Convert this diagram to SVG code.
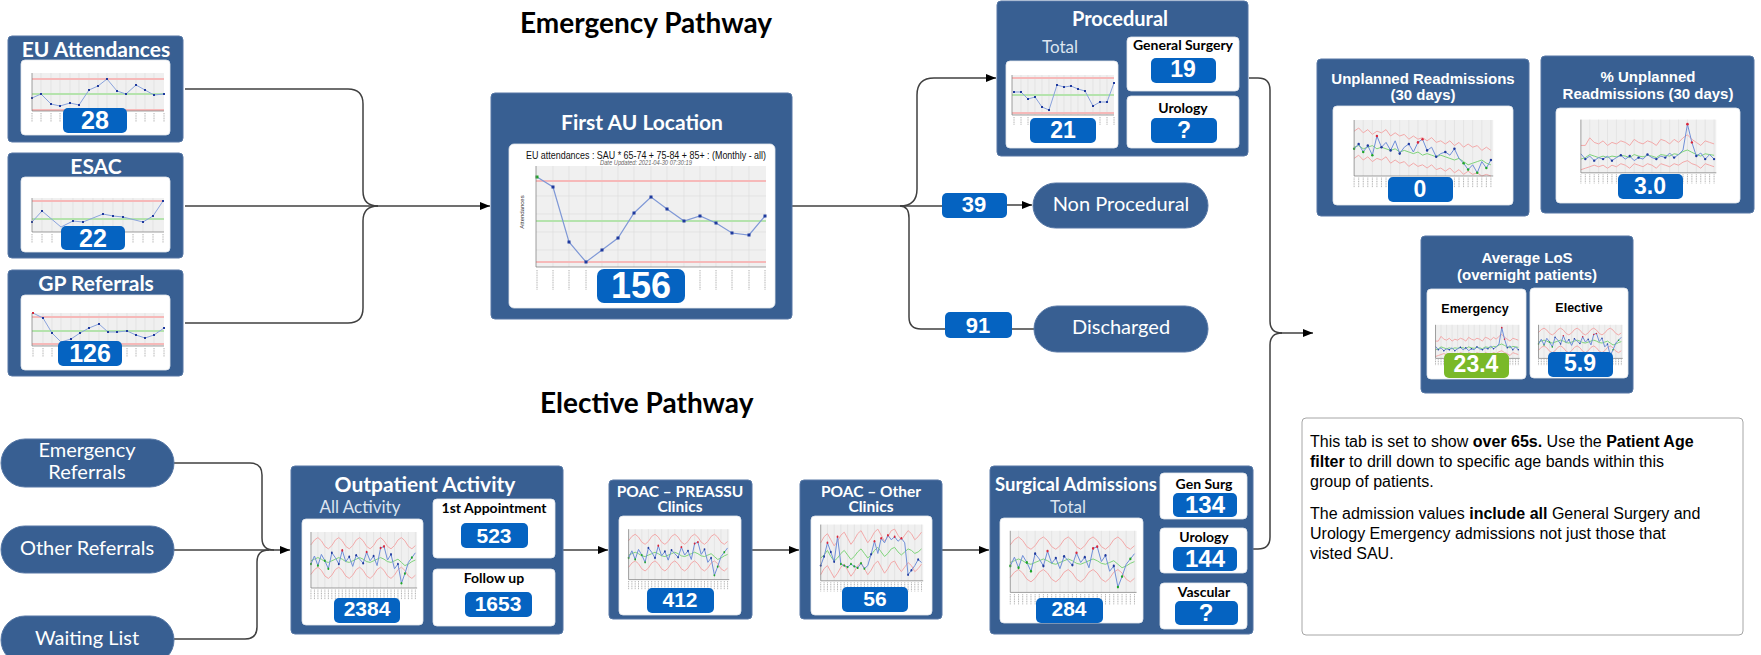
<svg xmlns="http://www.w3.org/2000/svg" width="1761" height="655" viewBox="0 0 1761 655">
<style>
.box{fill:#385f92;stroke:#5677a5;stroke-width:1}
.panel{fill:#fff;stroke:#e3e7ec;stroke-width:0.8}
.badge{fill:#0563c1}
.badgeG{fill:#7ab929}
.num{font-family:"Liberation Sans",Arial,sans-serif;font-weight:bold;fill:#fff;text-anchor:middle}
.ttl{font-family:Lato,"Open Sans",sans-serif;font-weight:bold;fill:#fff;text-anchor:middle}
.ttl2{font-family:"Liberation Sans",Arial,sans-serif;font-weight:bold;fill:#fff;text-anchor:middle;font-size:15px}
.sub{font-family:Lato,"Open Sans",sans-serif;fill:#dde5f0;text-anchor:middle;font-size:17px}
.lbl{font-family:Lato,"Open Sans",sans-serif;font-weight:bold;fill:#000;text-anchor:middle;font-size:14px}
.lbl2{font-family:"Liberation Sans",Arial,sans-serif;font-weight:bold;fill:#000;text-anchor:middle;font-size:12.5px}
.pill{fill:#385f92;stroke:#5677a5;stroke-width:1}
.ptxt{font-family:Lato,"Open Sans",sans-serif;fill:#fff;text-anchor:middle;font-size:20px}
.conn{fill:none;stroke:#404040;stroke-width:1.5}
.head{font-family:Lato,"Open Sans",sans-serif;font-weight:bold;font-size:28px;fill:#000}
.note{font-family:"Liberation Sans",Arial,sans-serif;font-size:16px;fill:#000}
.plot{fill:#f0f0f0}
.grid{stroke:#dcdcdc;stroke-width:0.6;fill:none;vector-effect:non-scaling-stroke}
.rl{fill:none;stroke:#f3a9a9;stroke-width:1;vector-effect:non-scaling-stroke}
.gl{fill:none;stroke:#7fd47b;stroke-width:1;vector-effect:non-scaling-stroke}
.bl{fill:none;stroke:#6f8fd8;stroke-width:1;vector-effect:non-scaling-stroke}
.ax{fill:none;stroke:#777;stroke-width:0.7;vector-effect:non-scaling-stroke}
.tk{fill:none;stroke:#9a9a9a;stroke-width:0.8;stroke-dasharray:1 0.7;vector-effect:non-scaling-stroke}
.bd{fill:#1f3a9e}.gd{fill:#1fa52a}.rd{fill:#d9263a}
.srl{fill:none;stroke:#f6b9b9;stroke-width:2}
.sgl{fill:none;stroke:#b5e3ad;stroke-width:2}
.sbl{fill:none;stroke:#8aa3dd;stroke-width:1}
</style>
<defs>
<marker id="arr" viewBox="0 0 10 10" refX="10" refY="5" markerWidth="10" markerHeight="10" markerUnits="userSpaceOnUse" orient="auto"><path d="M0,1 L10,5 L0,9 z" fill="#000"/></marker>
<symbol id="spcA" viewBox="0 0 200 100" preserveAspectRatio="none">
<rect class="plot" x="12" y="10" width="183" height="70"/>
<path class="grid" d="M24 10V80M36 10V80M48 10V80M60 10V80M72 10V80M84 10V80M96 10V80M108 10V80M120 10V80M132 10V80M144 10V80M156 10V80M168 10V80M180 10V80M192 10V80"/>
<polyline class="rl" points="12,26 18,20 24,17 30,21 36,28 42,31 48,27 54,20 60,17 66,21 72,28 78,31 84,27 90,20 96,17 102,21 108,28 114,31 120,27 126,20 132,17 138,21 144,28 150,31 156,27 162,20 168,17 174,21 180,28 186,31 192,27"/>
<polyline class="rl" points="12,63 18,57 24,54 30,58 36,65 42,68 48,64 54,57 60,54 66,58 72,65 78,68 84,64 90,57 96,54 102,58 108,65 114,68 120,64 126,57 132,54 138,58 144,65 150,68 156,64 162,57 168,54 174,58 180,65 186,68 192,64"/>
<polyline class="gl" points="12,46 18,44 24,42 30,44 36,47 42,48 48,46 54,44 60,42 66,44 72,47 78,48 84,46 90,44 96,42 102,44 108,47 114,48 120,46 126,44 132,42 138,44 144,47 150,48 156,46 162,44 168,48 174,52 180,50 186,47 192,45"/>
<polyline class="bl" points="12,50 18,40 24,52 30,38 36,46 42,56 48,36 54,42 60,50 66,33 72,47 78,41 84,53 90,39 96,44 102,49 108,35 114,46 120,40 126,52 132,30 138,28 144,45 150,38 156,56 162,50 168,74 174,62 180,48 186,42 192,36"/>
<g class="gd"><circle cx="12" cy="50" r="1.6"/><circle cx="24" cy="52" r="1.6"/><circle cx="36" cy="46" r="1.6"/><circle cx="42" cy="56" r="1.6"/><circle cx="168" cy="74" r="1.6"/><circle cx="174" cy="62" r="1.6"/><circle cx="186" cy="42" r="1.6"/></g>
<g class="bd"><circle cx="48" cy="36" r="1.6"/><circle cx="60" cy="50" r="1.6"/><circle cx="78" cy="41" r="1.6"/><circle cx="90" cy="39" r="1.6"/><circle cx="102" cy="49" r="1.6"/><circle cx="120" cy="40" r="1.6"/><circle cx="150" cy="38" r="1.6"/><circle cx="162" cy="50" r="1.6"/></g>
<g class="rd"><circle cx="66" cy="33" r="1.6"/><circle cx="108" cy="35" r="1.6"/><circle cx="132" cy="30" r="1.6"/><circle cx="138" cy="28" r="1.6"/></g>
<path class="ax" d="M12 10V80H195"/>
<path class="tk" d="M12 82V94M18 82V94M24 82V94M30 82V94M36 82V94M42 82V94M48 82V94M54 82V94M60 82V94M66 82V94M72 82V94M78 82V94M84 82V94M90 82V94M96 82V94M102 82V94M108 82V94M114 82V94M120 82V94M126 82V94M132 82V94M138 82V94M144 82V94M150 82V94M156 82V94M162 82V94M168 82V94M174 82V94M180 82V94M186 82V94M192 82V94"/>
</symbol>
<symbol id="spcB" viewBox="0 0 200 100" preserveAspectRatio="none">
<rect class="plot" x="12" y="6" width="183" height="74"/>
<path class="grid" d="M24 6V80M36 6V80M48 6V80M60 6V80M72 6V80M84 6V80M96 6V80M108 6V80M120 6V80M132 6V80M144 6V80M156 6V80M168 6V80M180 6V80M192 6V80"/>
<polyline class="rl" points="12,30 18,22 24,18 30,26 36,34 42,28 48,20 54,16 60,24 66,32 72,26 78,18 84,14 90,22 96,30 102,24 108,16 114,12 120,20 126,28 132,22 138,14 144,12 150,20 156,26 162,20 168,14 174,18 180,26 186,22 192,16"/>
<polyline class="rl" points="12,72 18,64 24,60 30,68 36,76 42,70 48,62 54,58 60,66 66,74 72,68 78,60 84,56 90,64 96,72 102,66 108,58 114,54 120,62 126,70 132,64 138,56 144,54 150,62 156,68 162,62 168,56 174,60 180,68 186,64 192,58"/>
<polyline class="gl" points="12,50 18,46 24,40 30,48 36,54 42,50 48,44 54,40 60,46 66,52 72,48 78,42 84,38 90,44 96,50 102,46 108,40 114,36 120,42 126,48 132,44 138,38 144,36 150,42 156,46 162,42 168,38 174,40 180,44 186,42 192,38"/>
<polyline class="bl" points="12,60 18,48 24,30 30,42 36,55 42,22 48,58 54,60 60,62 66,58 72,61 78,63 84,57 90,64 96,60 102,45 108,28 114,44 120,24 126,30 132,20 138,26 144,22 150,28 156,24 162,30 168,72 174,66 180,60 186,52 192,56"/>
<g class="gd"><circle cx="48" cy="58" r="1.6"/><circle cx="54" cy="60" r="1.6"/><circle cx="60" cy="62" r="1.6"/><circle cx="66" cy="58" r="1.6"/><circle cx="72" cy="61" r="1.6"/><circle cx="78" cy="63" r="1.6"/><circle cx="84" cy="57" r="1.6"/><circle cx="90" cy="64" r="1.6"/></g>
<g class="bd"><circle cx="12" cy="60" r="1.6"/><circle cx="18" cy="48" r="1.6"/><circle cx="30" cy="42" r="1.6"/><circle cx="36" cy="55" r="1.6"/><circle cx="102" cy="45" r="1.6"/><circle cx="168" cy="72" r="1.6"/><circle cx="174" cy="66" r="1.6"/><circle cx="186" cy="52" r="1.6"/></g>
<g class="rd"><circle cx="24" cy="30" r="1.6"/><circle cx="42" cy="22" r="1.6"/><circle cx="108" cy="28" r="1.6"/><circle cx="120" cy="24" r="1.6"/><circle cx="132" cy="20" r="1.6"/><circle cx="144" cy="22" r="1.6"/><circle cx="156" cy="24" r="1.6"/></g>
<path class="ax" d="M12 6V80H195"/>
<path class="tk" d="M12 82V94M18 82V94M24 82V94M30 82V94M36 82V94M42 82V94M48 82V94M54 82V94M60 82V94M66 82V94M72 82V94M78 82V94M84 82V94M90 82V94M96 82V94M102 82V94M108 82V94M114 82V94M120 82V94M126 82V94M132 82V94M138 82V94M144 82V94M150 82V94M156 82V94M162 82V94M168 82V94M174 82V94M180 82V94M186 82V94M192 82V94"/>
</symbol>
<symbol id="spcC" viewBox="0 0 200 100" preserveAspectRatio="none">
<rect class="plot" x="12" y="10" width="183" height="70"/>
<path class="grid" d="M24 10V80M36 10V80M48 10V80M60 10V80M72 10V80M84 10V80M96 10V80M108 10V80M120 10V80M132 10V80M144 10V80M156 10V80M168 10V80M180 10V80M192 10V80"/>
<polyline class="rl" points="12,24 18,20 24,26 30,22 36,28 42,24 48,26 54,22 60,30 66,26 72,30 78,28 84,34 90,30 96,34 102,32 108,36 114,32 120,38 126,36 132,40 138,36 144,42 150,38 156,44 162,40 168,44 174,42 180,48 186,44 192,48"/>
<polyline class="rl" points="12,58 18,54 24,60 30,56 36,62 42,58 48,60 54,56 60,64 66,60 72,64 78,62 84,68 90,64 96,68 102,66 108,70 114,66 120,72 126,70 132,74 138,70 144,76 150,72 156,78 162,74 168,78 174,76 180,80 186,78 192,80"/>
<polyline class="gl" points="12,44 18,42 24,46 30,44 36,42 42,46 48,44 54,46 60,48 66,46 72,50 78,48 84,50 90,52 96,50 102,54 108,52 114,54 120,56 126,54 132,56 138,58 144,60 150,58 156,62 162,66 168,64 174,62 180,60 186,64 192,66"/>
<polyline class="bl" points="12,46 18,40 24,50 30,42 36,54 42,30 48,44 54,38 60,48 66,36 72,52 78,44 84,40 90,50 96,38 102,34 108,48 114,44 120,56 126,52 132,50 138,54 144,46 150,58 156,64 162,72 168,66 174,76 180,62 186,70 192,60"/>
<g class="gd"><circle cx="12" cy="46" r="1.6"/><circle cx="24" cy="50" r="1.6"/><circle cx="36" cy="54" r="1.6"/><circle cx="156" cy="64" r="1.6"/><circle cx="162" cy="72" r="1.6"/><circle cx="174" cy="76" r="1.6"/><circle cx="186" cy="70" r="1.6"/></g>
<g class="bd"><circle cx="18" cy="40" r="1.6"/><circle cx="30" cy="42" r="1.6"/><circle cx="48" cy="44" r="1.6"/><circle cx="60" cy="48" r="1.6"/><circle cx="72" cy="52" r="1.6"/><circle cx="84" cy="40" r="1.6"/><circle cx="108" cy="48" r="1.6"/><circle cx="120" cy="56" r="1.6"/><circle cx="132" cy="50" r="1.6"/><circle cx="144" cy="46" r="1.6"/><circle cx="192" cy="60" r="1.6"/></g>
<g class="rd"><circle cx="42" cy="30" r="1.6"/><circle cx="96" cy="38" r="1.6"/><circle cx="102" cy="34" r="1.6"/></g>
<path class="ax" d="M12 10V80H195"/>
<path class="tk" d="M12 82V94M18 82V94M24 82V94M30 82V94M36 82V94M42 82V94M48 82V94M54 82V94M60 82V94M66 82V94M72 82V94M78 82V94M84 82V94M90 82V94M96 82V94M102 82V94M108 82V94M114 82V94M120 82V94M126 82V94M132 82V94M138 82V94M144 82V94M150 82V94M156 82V94M162 82V94M168 82V94M174 82V94M180 82V94M186 82V94M192 82V94"/>
</symbol>
<symbol id="spcD" viewBox="0 0 200 100" preserveAspectRatio="none">
<rect class="plot" x="12" y="10" width="183" height="70"/>
<path class="grid" d="M24 10V80M36 10V80M48 10V80M60 10V80M72 10V80M84 10V80M96 10V80M108 10V80M120 10V80M132 10V80M144 10V80M156 10V80M168 10V80M180 10V80M192 10V80"/>
<polyline class="rl" points="12,44 18,44 24,34 30,40 36,42 42,38 48,44 54,40 60,42 66,38 72,40 78,44 84,36 90,40 96,42 102,38 108,40 114,44 120,36 126,38 132,42 138,36 144,40 150,34 156,30 162,36 168,40 174,44 180,38 186,40 192,42"/>
<polyline class="rl" points="12,76 18,74 24,72 30,70 36,72 42,70 48,74 54,70 60,72 66,68 72,70 78,74 84,68 90,70 96,72 102,68 108,70 114,74 120,68 126,70 132,72 138,68 144,70 150,66 156,64 162,68 168,70 174,74 180,68 186,70 192,72"/>
<polyline class="gl" points="12,62 18,60 24,56 30,58 36,60 42,58 48,60 54,58 60,59 66,57 72,58 78,60 84,56 90,58 96,59 102,57 108,58 114,60 120,56 126,57 132,58 138,55 144,56 150,52 156,50 162,53 168,56 174,58 180,55 186,56 192,57"/>
<polyline class="bl" points="12,55 18,62 24,58 30,64 36,60 42,62 48,58 54,64 60,60 66,57 72,62 78,58 84,64 90,60 96,62 102,56 108,60 114,62 120,58 126,60 132,54 138,60 144,56 150,50 156,16 162,40 168,58 174,54 180,62 186,56 192,62"/>
<g class="bd"><circle cx="18" cy="62" r="1.6"/><circle cx="30" cy="64" r="1.6"/><circle cx="42" cy="62" r="1.6"/><circle cx="54" cy="64" r="1.6"/><circle cx="66" cy="57" r="1.6"/><circle cx="78" cy="58" r="1.6"/><circle cx="90" cy="60" r="1.6"/><circle cx="102" cy="56" r="1.6"/><circle cx="114" cy="62" r="1.6"/><circle cx="126" cy="60" r="1.6"/><circle cx="138" cy="60" r="1.6"/><circle cx="168" cy="58" r="1.6"/><circle cx="180" cy="62" r="1.6"/><circle cx="192" cy="62" r="1.6"/></g>
<g class="rd"><circle cx="156" cy="16" r="1.8"/><circle cx="162" cy="40" r="1.6"/></g>
<path class="ax" d="M12 10V80H195"/>
<path class="tk" d="M12 82V94M18 82V94M24 82V94M30 82V94M36 82V94M42 82V94M48 82V94M54 82V94M60 82V94M66 82V94M72 82V94M78 82V94M84 82V94M90 82V94M96 82V94M102 82V94M108 82V94M114 82V94M120 82V94M126 82V94M132 82V94M138 82V94M144 82V94M150 82V94M156 82V94M162 82V94M168 82V94M174 82V94M180 82V94M186 82V94M192 82V94"/>
</symbol>
</defs>
<rect width="1761" height="655" fill="#fff"/>

<text class="head" x="520" y="33">Emergency Pathway</text>
<text class="head" x="540" y="413">Elective Pathway</text>

<g id="connectors">
<path class="conn" d="M185,89 H348 Q363,89 363,104 V191 Q363,206 378,206"/>
<path class="conn" d="M185,206 H490" marker-end="url(#arr)"/>
<path class="conn" d="M185,323 H348 Q363,323 363,308 V221 Q363,206 378,206"/>
<path class="conn" d="M792,206 H942"/>
<path class="conn" d="M900,206 Q917,206 917,189 V95 Q917,78 934,78 H996" marker-end="url(#arr)"/>
<path class="conn" d="M900,206 Q909,206 909,218 V317 Q909,329 921,329 H945"/>
<path class="conn" d="M1007,205 H1032" marker-end="url(#arr)"/>
<path class="conn" d="M1012,329 H1034"/>
<path class="conn" d="M1249,78 H1258 Q1270,78 1270,90 V321 Q1270,333 1282,333"/>
<path class="conn" d="M1253,549 H1258 Q1270,549 1270,537 V345 Q1270,333 1282,333"/>
<path class="conn" d="M1278,333 H1313" marker-end="url(#arr)"/>
<path class="conn" d="M174,463 H250 Q262,463 262,475 V538 Q262,550 274,550"/>
<path class="conn" d="M174,550 H290" marker-end="url(#arr)"/>
<path class="conn" d="M174,639 H245 Q257,639 257,627 V562 Q257,550 269,550"/>
<path class="conn" d="M563,550 H608" marker-end="url(#arr)"/>
<path class="conn" d="M752,550 H799" marker-end="url(#arr)"/>
<path class="conn" d="M942,550 H989" marker-end="url(#arr)"/>
</g>

<g id="eu-attendances">
<rect class="box" x="8" y="36" width="175" height="106" rx="4"/>
<text class="ttl" x="96" y="57" font-size="21">EU Attendances</text>
<rect class="panel" x="21" y="60" width="149" height="75" rx="4"/>
<rect class="plot" x="32" y="73" width="132" height="38"/>
<path class="grid" d="M41 73V111M51 73V111M60 73V111M70 73V111M79 73V111M89 73V111M98 73V111M107 73V111M117 73V111M126 73V111M136 73V111M145 73V111M154 73V111"/>
<path class="srl" d="M32 79H164M32 110H164"/><path class="sgl" d="M32 94H164"/>
<polyline class="sbl" points="32,98 41,94 51,104 60,106 70,103 79,105 89,90 98,86 107,79 117,91 126,94 136,85 145,90 154,95 164,94"/>
<g class="bd"><rect x="31" y="97" width="2" height="2"/><rect x="40" y="93" width="2" height="2"/><rect x="50" y="103" width="2" height="2"/><rect x="59" y="105" width="2" height="2"/><rect x="69" y="102" width="2" height="2"/><rect x="78" y="104" width="2" height="2"/><rect x="88" y="89" width="2" height="2"/><rect x="97" y="85" width="2" height="2"/><rect x="106" y="78" width="2" height="2"/><rect x="116" y="90" width="2" height="2"/><rect x="125" y="93" width="2" height="2"/><rect x="135" y="84" width="2" height="2"/><rect x="144" y="89" width="2" height="2"/><rect x="153" y="94" width="2" height="2"/><rect x="163" y="93" width="2" height="2"/></g>
<path class="ax" d="M32 73V111H164"/>
<path class="tk" d="M32 113V122M41 113V122M51 113V122M60 113V122M136 113V122M145 113V122M154 113V122M164 113V122"/>
<rect class="badge" x="63" y="108" width="64" height="25" rx="5"/>
<text class="num" x="95" y="129" font-size="25">28</text>
</g>

<g id="esac">
<rect class="box" x="8" y="153" width="175" height="105" rx="4"/>
<text class="ttl" x="96" y="174" font-size="21">ESAC</text>
<rect class="panel" x="21" y="177" width="149" height="75" rx="4"/>
<rect class="plot" x="32" y="198" width="132" height="34"/>
<path class="grid" d="M42 198V232M52 198V232M61 198V232M73 198V232M83 198V232M93 198V232M103 198V232M113 198V232M123 198V232M133 198V232M143 198V232M153 198V232"/>
<path class="srl" d="M32 201H164"/><path class="sgl" d="M32 219H164"/>
<polyline class="sbl" points="32,222 42,211 61,227 73,221 83,222 103,214 113,216 123,217 143,222 153,216 163,201"/>
<g class="bd"><rect x="31" y="221" width="2" height="2"/><rect x="41" y="210" width="2" height="2"/><rect x="72" y="220" width="2" height="2"/><rect x="82" y="221" width="2" height="2"/><rect x="102" y="213" width="2" height="2"/><rect x="112" y="215" width="2" height="2"/><rect x="122" y="216" width="2" height="2"/><rect x="142" y="221" width="2" height="2"/><rect x="152" y="215" width="2" height="2"/><rect x="162" y="200" width="2" height="2"/></g>
<path class="ax" d="M32 198V232H164"/>
<path class="tk" d="M32 234V243M42 234V243M52 234V243M133 234V243M143 234V243M153 234V243M163 234V243"/>
<rect class="badge" x="61" y="226" width="64" height="24" rx="5"/>
<text class="num" x="93" y="247" font-size="25">22</text>
</g>

<g id="gp-referrals">
<rect class="box" x="8" y="270" width="175" height="106" rx="4"/>
<text class="ttl" x="96" y="291" font-size="21">GP Referrals</text>
<rect class="panel" x="21" y="295" width="149" height="75" rx="4"/>
<rect class="plot" x="32" y="313" width="132" height="33"/>
<path class="grid" d="M43 313V346M52 313V346M61 313V346M71 313V346M80 313V346M89 313V346M99 313V346M108 313V346M117 313V346M127 313V346M136 313V346M145 313V346M154 313V346"/>
<path class="srl" d="M32 317H164M32 344H164"/><path class="sgl" d="M32 331H164"/>
<polyline class="sbl" points="33,313 43,318 52,333 61,342 71,339 80,333 89,328 99,324 108,332 117,332 127,331 136,335 145,338 154,335 164,328"/>
<g class="bd"><rect x="42" y="317" width="2" height="2"/><rect x="51" y="332" width="2" height="2"/><rect x="70" y="338" width="2" height="2"/><rect x="79" y="332" width="2" height="2"/><rect x="88" y="327" width="2" height="2"/><rect x="98" y="323" width="2" height="2"/><rect x="107" y="331" width="2" height="2"/><rect x="116" y="331" width="2" height="2"/><rect x="126" y="330" width="2" height="2"/><rect x="135" y="334" width="2" height="2"/><rect x="144" y="337" width="2" height="2"/><rect x="153" y="334" width="2" height="2"/><rect x="163" y="327" width="2" height="2"/></g>
<rect class="rd" x="32" y="312" width="2" height="2"/>
<path class="ax" d="M32 313V346H164"/>
<path class="tk" d="M33 348V357M43 348V357M52 348V357M127 348V357M136 348V357M145 348V357M154 348V357M164 348V357"/>
<rect class="badge" x="58" y="341" width="64" height="25" rx="5"/>
<text class="num" x="90" y="362" font-size="25">126</text>
</g>

<g id="first-au-location">
<rect class="box" x="491" y="93" width="301" height="226" rx="4"/>
<text class="ttl" x="642" y="130" font-size="21">First AU Location</text>
<rect class="panel" x="509" y="144" width="266" height="164" rx="5"/>
<text x="646" y="159" font-family="'Liberation Sans',Arial,sans-serif" font-size="11" text-anchor="middle" textLength="240" lengthAdjust="spacingAndGlyphs" fill="#111">EU attendances : SAU * 65-74 + 75-84 + 85+ : (Monthly - all)</text>
<text x="646" y="165" font-family="'Liberation Sans',Arial,sans-serif" font-size="6.5" font-style="italic" text-anchor="middle" textLength="92" lengthAdjust="spacingAndGlyphs" fill="#666">Date Updated: 2021-04-30 07:30:19</text>
<rect class="plot" x="536" y="166" width="230" height="101"/>
<path class="grid" d="M553 166V267M569 166V267M586 166V267M602 166V267M618 166V267M634 166V267M651 166V267M667 166V267M684 166V267M700 166V267M716 166V267M732 166V267M749 166V267M536 196H766M536 214H766M536 232H766M536 250H766"/>
<path class="srl" d="M536 181H766M536 262H766"/><path class="sgl" d="M536 221H766"/>
<polyline fill="none" stroke="#7f98d6" stroke-width="1.2" points="537,177 553,187 569,242 586,262 602,250 618,238 634,213 651,197 667,209 684,221 700,216 716,223 732,233 749,235 765,216"/>
<g class="bd"><rect x="551.5" y="185.5" width="3" height="3"/><rect x="567.5" y="240.5" width="3" height="3"/><rect x="584.5" y="260.5" width="3" height="3"/><rect x="600.5" y="248.5" width="3" height="3"/><rect x="616.5" y="236.5" width="3" height="3"/><rect x="632.5" y="211.5" width="3" height="3"/><rect x="649.5" y="195.5" width="3" height="3"/><rect x="665.5" y="207.5" width="3" height="3"/><rect x="682.5" y="219.5" width="3" height="3"/><rect x="698.5" y="214.5" width="3" height="3"/><rect x="714.5" y="221.5" width="3" height="3"/><rect x="730.5" y="231.5" width="3" height="3"/><rect x="747.5" y="233.5" width="3" height="3"/><rect x="763.5" y="214.5" width="3" height="3"/></g>
<rect class="gd" x="535.5" y="175.5" width="3" height="3"/>
<path class="ax" d="M536 166V267H766"/>
<text x="524" y="212" font-family="'Liberation Sans',Arial,sans-serif" font-size="6" text-anchor="middle" fill="#333" transform="rotate(-90 524 212)">Attendances</text>
<path class="tk" d="M537 270V290M553 270V290M569 270V290M586 270V290M700 270V290M716 270V290M732 270V290M749 270V290M765 270V290"/>
<rect class="badge" x="597" y="269" width="88" height="34" rx="7"/>
<text class="num" x="641" y="298" font-size="36">156</text>
</g>

<g id="procedural">
<rect class="box" x="997" y="1" width="251" height="155" rx="4"/>
<text class="ttl" x="1120" y="26" font-size="20">Procedural</text>
<text class="sub" x="1060" y="53">Total</text>
<rect class="panel" x="1006" y="61" width="112" height="87" rx="4"/>
<rect class="plot" x="1012" y="75" width="102" height="40"/>
<path class="grid" d="M1021 75V115M1028 75V115M1035 75V115M1042 75V115M1049 75V115M1057 75V115M1064 75V115M1071 75V115M1078 75V115M1085 75V115M1093 75V115M1100 75V115M1107 75V115"/>
<path class="srl" d="M1012 78H1114M1012 113H1114"/><path class="sgl" d="M1012 95H1114"/>
<polyline class="sbl" points="1014,92 1021,92 1028,99 1035,97 1042,107 1049,110 1057,85 1064,87 1071,86 1078,89 1085,91 1093,106 1100,102 1107,102 1114,83"/>
<g class="bd"><rect x="1013" y="91" width="2" height="2"/><rect x="1020" y="91" width="2" height="2"/><rect x="1027" y="98" width="2" height="2"/><rect x="1034" y="96" width="2" height="2"/><rect x="1041" y="106" width="2" height="2"/><rect x="1048" y="109" width="2" height="2"/><rect x="1056" y="84" width="2" height="2"/><rect x="1063" y="86" width="2" height="2"/><rect x="1070" y="85" width="2" height="2"/><rect x="1077" y="88" width="2" height="2"/><rect x="1084" y="90" width="2" height="2"/><rect x="1092" y="105" width="2" height="2"/><rect x="1099" y="101" width="2" height="2"/><rect x="1106" y="101" width="2" height="2"/><rect x="1113" y="82" width="2" height="2"/></g>
<path class="ax" d="M1012 75V115H1114"/>
<path class="tk" d="M1014 117V125M1021 117V125M1028 117V125M1100 117V125M1107 117V125M1114 117V125"/>
<rect class="badge" x="1030" y="118" width="66" height="25" rx="5"/>
<text class="num" x="1063" y="138" font-size="23">21</text>
<rect class="panel" x="1127" y="37" width="112" height="54" rx="4"/>
<text class="lbl" x="1183" y="50" font-size="14.5">General Surgery</text>
<rect class="badge" x="1151" y="58" width="65" height="25" rx="5"/>
<text class="num" x="1183" y="77" font-size="23">19</text>
<rect class="panel" x="1127" y="96" width="112" height="52" rx="4"/>
<text class="lbl" x="1183" y="113" font-size="14.5">Urology</text>
<rect class="badge" x="1151" y="118" width="66" height="25" rx="5"/>
<text class="num" x="1184" y="138" font-size="23">?</text>
</g>

<g id="non-procedural">
<rect class="badge" x="942" y="193" width="65" height="25" rx="5"/>
<text class="num" x="974" y="212" font-size="22">39</text>
<rect class="pill" x="1033" y="183" width="175" height="45" rx="22.5"/>
<text class="ptxt" x="1121" y="211" font-size="21">Non Procedural</text>
</g>

<g id="discharged">
<rect class="badge" x="945" y="312" width="67" height="26" rx="5"/>
<text class="num" x="978" y="333" font-size="22">91</text>
<rect class="pill" x="1034" y="306" width="174" height="46" rx="23"/>
<text class="ptxt" x="1121" y="334" font-size="21">Discharged</text>
</g>

<g id="unplanned-readmissions">
<rect class="box" x="1317" y="59" width="212" height="157" rx="4"/>
<text class="ttl2" x="1423" y="84">Unplanned Readmissions</text>
<text class="ttl2" x="1423" y="100">(30 days)</text>
<rect class="panel" x="1333" y="106" width="180" height="99" rx="4"/>
<use href="#spcC" x="1345" y="112" width="152" height="80"/>
<rect class="badge" x="1388" y="177" width="65" height="25" rx="5"/>
<text class="num" x="1420" y="197" font-size="23">0</text>
</g>

<g id="pct-unplanned-readmissions">
<rect class="box" x="1541" y="56" width="213" height="157" rx="4"/>
<text class="ttl2" x="1648" y="82">% Unplanned</text>
<text class="ttl2" x="1648" y="99">Readmissions (30 days)</text>
<rect class="panel" x="1556" y="108" width="184" height="95" rx="4"/>
<use href="#spcD" x="1572" y="112" width="148" height="76"/>
<rect class="badge" x="1618" y="174" width="65" height="25" rx="5"/>
<text class="num" x="1650" y="194" font-size="23">3.0</text>
</g>

<g id="average-los">
<rect class="box" x="1421" y="236" width="212" height="157" rx="4"/>
<text class="ttl2" x="1527" y="263">Average LoS</text>
<text class="ttl2" x="1527" y="280">(overnight patients)</text>
<rect class="panel" x="1427" y="289" width="99" height="90" rx="4"/>
<text class="lbl2" x="1475" y="313">Emergency</text>
<use href="#spcD" x="1430" y="320" width="92" height="48"/>
<rect class="badgeG" x="1444" y="353" width="65" height="25" rx="5"/>
<text class="num" x="1476" y="372" font-size="23">23.4</text>
<rect class="panel" x="1530" y="288" width="98" height="90" rx="4"/>
<text class="lbl2" x="1579" y="312">Elective</text>
<use href="#spcA" x="1533" y="320" width="92" height="48"/>
<rect class="badge" x="1548" y="352" width="65" height="25" rx="5"/>
<text class="num" x="1580" y="371" font-size="23">5.9</text>
</g>

<g id="note">
<rect x="1302" y="418" width="441" height="217" rx="4" fill="#fff" stroke="#a6a6a6" stroke-width="1"/>
<text class="note" x="1310" y="447">This tab is set to show <tspan font-weight="bold">over 65s.</tspan> Use the <tspan font-weight="bold">Patient Age</tspan></text>
<text class="note" x="1310" y="467"><tspan font-weight="bold">filter</tspan> to drill down to specific age bands within this</text>
<text class="note" x="1310" y="487">group of patients.</text>
<text class="note" x="1310" y="519">The admission values <tspan font-weight="bold">include all</tspan> General Surgery and</text>
<text class="note" x="1310" y="539">Urology Emergency admissions not just those that</text>
<text class="note" x="1310" y="559">visted SAU.</text>
</g>

<g id="emergency-referrals">
<rect class="pill" x="1" y="439" width="173" height="48" rx="24"/>
<text class="ptxt" x="87" y="457" font-size="19.5">Emergency</text>
<text class="ptxt" x="87" y="479" font-size="19.5">Referrals</text>
</g>
<g id="other-referrals">
<rect class="pill" x="1" y="526" width="173" height="47" rx="23.5"/>
<text class="ptxt" x="87" y="555">Other Referrals</text>
</g>
<g id="waiting-list">
<rect class="pill" x="1" y="616" width="173" height="48" rx="24"/>
<text class="ptxt" x="87" y="645">Waiting List</text>
</g>

<g id="outpatient-activity">
<rect class="box" x="291" y="466" width="272" height="168" rx="4"/>
<text class="ttl" x="425" y="492" font-size="21">Outpatient Activity</text>
<text class="sub" x="360" y="513">All Activity</text>
<rect class="panel" x="302" y="519" width="121" height="106" rx="4"/>
<use href="#spcA" x="304" y="524" width="116" height="80"/>
<rect class="badge" x="334" y="598" width="66" height="25" rx="5"/>
<text class="num" x="367" y="616" font-size="21">2384</text>
<rect class="panel" x="433" y="499" width="122" height="59" rx="4"/>
<text class="lbl" x="494" y="513">1st Appointment</text>
<rect class="badge" x="461" y="523" width="67" height="25" rx="5"/>
<text class="num" x="494" y="543" font-size="21">523</text>
<rect class="panel" x="433" y="569" width="122" height="57" rx="4"/>
<text class="lbl" x="494" y="583">Follow up</text>
<rect class="badge" x="465" y="592" width="67" height="25" rx="5"/>
<text class="num" x="498" y="611" font-size="21">1653</text>
</g>

<g id="poac-preassu">
<rect class="box" x="609" y="480" width="143" height="139" rx="4"/>
<text class="ttl" x="680" y="497" font-size="15.5">POAC – PREASSU</text>
<text class="ttl" x="680" y="512" font-size="15.5">Clinics</text>
<rect class="panel" x="619" y="516" width="122" height="99" rx="4"/>
<use href="#spcA" x="622" y="522" width="110" height="72"/>
<rect class="badge" x="647" y="588" width="67" height="25" rx="5"/>
<text class="num" x="680" y="607" font-size="21">412</text>
</g>

<g id="poac-other">
<rect class="box" x="800" y="480" width="142" height="139" rx="4"/>
<text class="ttl" x="871" y="497" font-size="15.5">POAC – Other</text>
<text class="ttl" x="871" y="512" font-size="15.5">Clinics</text>
<rect class="panel" x="811" y="516" width="121" height="99" rx="4"/>
<use href="#spcB" x="814" y="520" width="112" height="76"/>
<rect class="badge" x="842" y="587" width="66" height="25" rx="5"/>
<text class="num" x="875" y="606" font-size="21">56</text>
</g>

<g id="surgical-admissions">
<rect class="box" x="990" y="466" width="263" height="168" rx="4"/>
<text class="ttl" x="1076" y="491" font-size="18.5">Surgical Admissions</text>
<text class="sub" x="1068" y="513">Total</text>
<rect class="panel" x="1000" y="518" width="143" height="105" rx="4"/>
<use href="#spcA" x="1002" y="522" width="138" height="88"/>
<rect class="badge" x="1036" y="598" width="67" height="25" rx="5"/>
<text class="num" x="1069" y="616" font-size="21">284</text>
<rect class="panel" x="1160" y="473" width="87" height="46" rx="4"/>
<text class="lbl" x="1204" y="489">Gen Surg</text>
<rect class="badge" x="1173" y="493" width="64" height="24" rx="5"/>
<text class="num" x="1205" y="513" font-size="24">134</text>
<rect class="panel" x="1160" y="528" width="87" height="45" rx="4"/>
<text class="lbl" x="1204" y="542">Urology</text>
<rect class="badge" x="1173" y="547" width="64" height="24" rx="5"/>
<text class="num" x="1205" y="567" font-size="24">144</text>
<rect class="panel" x="1160" y="583" width="87" height="46" rx="4"/>
<text class="lbl" x="1204" y="597">Vascular</text>
<rect class="badge" x="1175" y="601" width="63" height="24" rx="5"/>
<text class="num" x="1206" y="621" font-size="24">?</text>
</g>
</svg>
